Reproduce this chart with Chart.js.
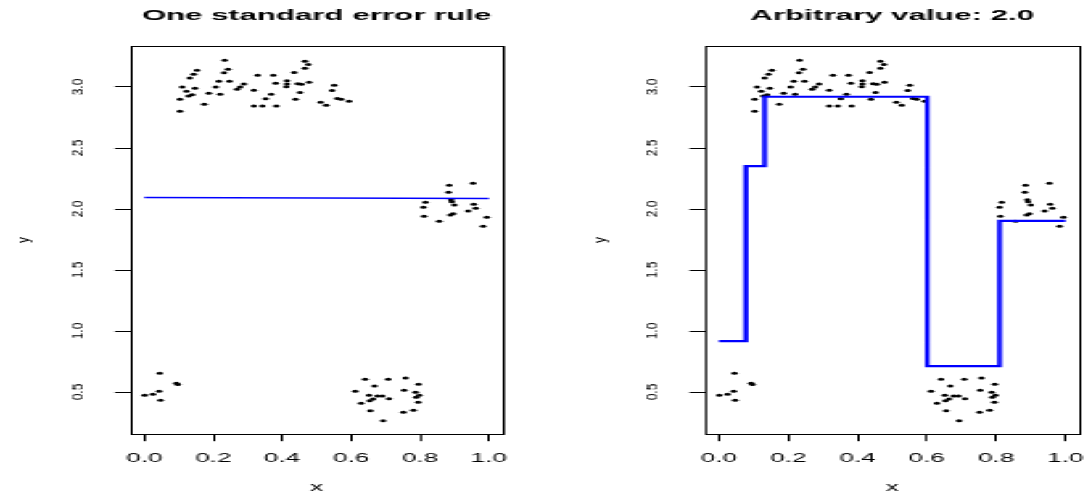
<!DOCTYPE html>
<html>
<head>
<meta charset="utf-8">
<script src="https://cdn.jsdelivr.net/npm/chart.js@4.4.1/dist/chart.umd.min.js"></script>
<style>
  html, body { margin: 0; padding: 0; background: #fff; overflow: hidden; }
  /* the reference is an R plot stretched sideways, so draw at 500px and stretch */
  #wrap { position: absolute; left: 0; top: 0; width: 500px; height: 495px; transform-origin: 0 0; }
  #wrap canvas { position: absolute; top: 0; }
</style>
</head>
<body>
<div id="wrap">
  <canvas id="left" width="250" height="495" style="left:0"></canvas>
  <canvas id="right" width="250" height="495" style="left:250px"></canvas>
</div>
<script>
"use strict";

const FONT = "'Liberation Sans', Arial, Helvetica, sans-serif";
const STRETCH = 2.176;     // sideways stretch of the whole picture
const ROT_STRETCH = 1.2;   // rotated labels are stretched much less

const titles = ["One standard error rule", "Arbitrary value: 2.0"];
const xTicks = [0, 0.2, 0.4, 0.6, 0.8, 1.0];
const yTicks = [0.5, 1.0, 1.5, 2.0, 2.5, 3.0];

// observed points (same in both panels)
const xPts = [
  0.001, 0.025, 0.043, 0.045, 0.047, 0.093, 0.097,
  0.103, 0.103, 0.110, 0.122, 0.128, 0.132, 0.139, 0.143, 0.147, 0.153,
  0.174, 0.187, 0.207, 0.216, 0.220, 0.231, 0.233, 0.243, 0.247, 0.269,
  0.278, 0.289, 0.318, 0.318, 0.329, 0.343, 0.352, 0.368, 0.374, 0.381,
  0.383, 0.412, 0.414, 0.414, 0.435, 0.439, 0.445, 0.452, 0.456, 0.466,
  0.466, 0.476, 0.478, 0.512, 0.528, 0.545, 0.551, 0.560, 0.571, 0.594,
  0.612, 0.629, 0.641, 0.652, 0.654, 0.656, 0.664, 0.668, 0.677, 0.691,
  0.693, 0.708, 0.710, 0.752, 0.754, 0.758, 0.781, 0.787, 0.789, 0.795,
  0.796, 0.798,
  0.810, 0.812, 0.816, 0.856, 0.883, 0.885, 0.888, 0.890, 0.892, 0.896,
  0.900, 0.940, 0.954, 0.956, 0.962, 0.983, 0.994,
];
const yPts = [
  0.473, 0.482, 0.506, 0.653, 0.432, 0.571, 0.561,
  2.899, 2.801, 3.000, 2.965, 2.926, 3.074, 2.937, 3.104, 2.989, 3.137,
  2.858, 2.948, 3.000, 3.047, 2.940, 3.117, 3.219, 3.145, 3.047, 2.981,
  3.000, 3.025, 2.973, 2.844, 3.096, 2.844, 2.904, 2.940, 3.096, 3.030,
  2.844, 3.003, 3.052, 3.025, 3.119, 2.899, 3.027, 2.955, 3.022, 3.211,
  3.154, 3.184, 3.039, 2.875, 2.850, 2.971, 3.014, 2.906, 2.899, 2.883,
  0.506, 0.407, 0.604, 0.473, 0.429, 0.347, 0.443, 0.549, 0.467, 0.467,
  0.265, 0.604, 0.445, 0.334, 0.514, 0.615, 0.350, 0.498, 0.457, 0.416,
  0.563, 0.473,
  2.014, 1.940, 2.055, 1.899, 2.137, 2.194, 1.951, 2.076, 2.060, 1.962,
  2.033, 1.984, 2.211, 2.039, 2.006, 1.858, 1.932,
];

// left panel fit: almost flat line
const fitX = [0, 1];
const fitY = [2.094, 2.086];

// right panel fit: step function (value holds until the next break)
const stepX = [0, 0.078, 0.132, 0.601, 0.810, 1.0];
const stepY = [0.918, 2.352, 2.920, 0.713, 1.902, 1.902];

const X_RANGE = [-0.04, 1.04];
const Y_RANGE = [0.156, 3.336];

document.getElementById("wrap").style.transform = `scaleX(${STRETCH})`;

// R style frame round the plot region
const boxPlugin = {
  id: "rbox",
  afterDatasetsDraw(chart) {
    const { ctx, chartArea: a } = chart;
    ctx.save();
    ctx.strokeStyle = "#000";
    ctx.lineWidth = 1;
    ctx.strokeRect(Math.round(a.left) + 0.5, Math.round(a.top) + 0.5,
      Math.round(a.right - a.left), Math.round(a.bottom - a.top));
    ctx.restore();
  },
};

// y tick labels and y title, rotated, with most of the stretch taken back out
const yLabelPlugin = {
  id: "ylabels",
  afterDraw(chart, args, o) {
    const { ctx, scales: { y } } = chart;
    ctx.save();
    ctx.fillStyle = "#000";
    ctx.textAlign = "center";
    ctx.textBaseline = "middle";
    ctx.font = `12px ${FONT}`;
    const put = (text, x, py) => {
      ctx.save();
      ctx.translate(x, py);
      ctx.scale(ROT_STRETCH / STRETCH, 1);
      ctx.rotate(-Math.PI / 2);
      ctx.fillText(text, 0, 0);
      ctx.restore();
    };
    y.ticks.forEach((t) => put(t.label, o.tickX, y.getPixelForValue(t.value)));
    put("y", o.titleX, (chart.chartArea.top + chart.chartArea.bottom) / 2);
    ctx.restore();
  },
};

function makePanel(id, title, lineX, lineY, opts) {
  const pts = xPts.map((x, i) => ({ x, y: yPts[i] }));
  const line = lineX.map((x, i) => ({ x, y: lineY[i] }));
  const tickFont = { family: FONT, size: 12 };

  return new Chart(document.getElementById(id), {
    type: "scatter",
    data: {
      datasets: [
        {
          data: line,
          showLine: true,
          stepped: opts.stepped,
          borderColor: "#0000ff",
          borderWidth: opts.lineWidth,
          pointRadius: 0,
          order: 0,
        },
        {
          data: pts,
          pointRadius: 1.5,
          pointBorderWidth: 0,
          pointBackgroundColor: "#000",
          pointBorderColor: "#000",
          order: 1,
        },
      ],
    },
    options: {
      responsive: false,
      animation: false,
      devicePixelRatio: 1,
      layout: { padding: { left: 0, right: opts.rightPad, top: 0, bottom: 0 } },
      plugins: {
        legend: { display: false },
        tooltip: { enabled: false },
        title: {
          display: true,
          text: title,
          fullSize: false,
          color: "#000",
          font: { family: FONT, size: 14.4, weight: "bold" },
          padding: { top: 7, bottom: 21.72 },
        },
        ylabels: { tickX: opts.tickX, titleX: opts.titleX },
      },
      scales: {
        x: {
          type: "linear",
          min: X_RANGE[0],
          max: X_RANGE[1],
          afterBuildTicks: (s) => { s.ticks = xTicks.map((v) => ({ value: v })); },
          afterFit: (s) => {
            s.height = 61;
            // keep the end labels from shrinking the plot region
            s.paddingLeft = 0;
            s.paddingRight = 0;
          },
          grid: { drawOnChartArea: false, drawTicks: true, tickLength: 7.2, color: "#000" },
          border: { display: false },
          ticks: {
            color: "#000", font: tickFont, padding: 10.5,
            autoSkip: false, maxRotation: 0, minRotation: 0,
            callback: (v) => Number(v).toFixed(1),
          },
          title: {
            display: true, text: "x", color: "#000",
            font: { family: FONT, size: 12 }, padding: { top: 0, bottom: 0 },
          },
        },
        y: {
          type: "linear",
          min: Y_RANGE[0],
          max: Y_RANGE[1],
          afterBuildTicks: (s) => { s.ticks = yTicks.map((v) => ({ value: v })); },
          afterFit: (s) => { s.width = opts.yWidth; },
          grid: { drawOnChartArea: false, drawTicks: true, tickLength: 7.2, color: "#000" },
          border: { display: false },
          ticks: { display: false, autoSkip: false, callback: (v) => Number(v).toFixed(1) },
          title: { display: false },
        },
      },
    },
    plugins: [boxPlugin, yLabelPlugin],
  });
}

// label centres measured on the reference, converted to unstretched px
makePanel("left", titles[0], fitX, fitY, {
  stepped: false, lineWidth: 1.5, yWidth: 60, rightPad: 19,
  tickX: 78.5 / STRETCH, titleX: 25 / STRETCH,
});
makePanel("right", titles[1], stepX, stepY, {
  stepped: "before", lineWidth: 2.2, yWidth: 74, rightPad: 4,
  tickX: 654 / STRETCH - 250, titleX: 600 / STRETCH - 250,
});
</script>
</body>
</html>
